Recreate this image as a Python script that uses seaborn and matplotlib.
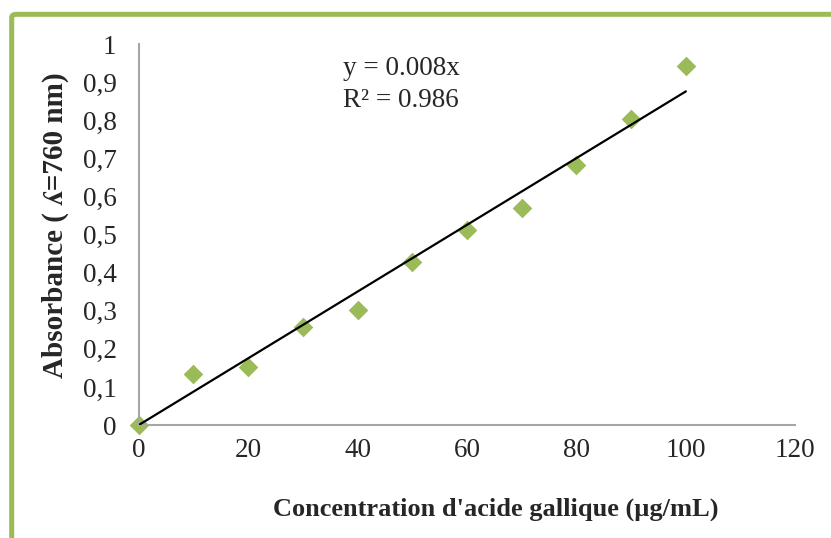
import numpy as np
import pandas as pd
import matplotlib
matplotlib.use("Agg")
import matplotlib.pyplot as plt
import seaborn as sns
from matplotlib.patches import FancyBboxPatch

# values
concentration = [0, 10, 20, 30, 40, 50, 60, 70, 80, 90, 100]
absorbance = [0.0, 0.134, 0.152, 0.257, 0.302, 0.428, 0.512, 0.570, 0.682, 0.803, 0.942]
x_ticks = [0, 20, 40, 60, 80, 100, 120]
y_ticks = [0, 0.1, 0.2, 0.3, 0.4, 0.5, 0.6, 0.7, 0.8, 0.9, 1.0]
y_tick_labels = ["0", "0,1", "0,2", "0,3", "0,4", "0,5", "0,6", "0,7", "0,8", "0,9", "1"]
equation_text = "y = 0.008x\nR² = 0.986"

GREEN = "#9BBB59"
AXIS_GRAY = "#A6A6A6"

sns.set_style("white")
plt.rcParams["font.family"] = ["Liberation Serif", "DejaVu Serif"]

df = pd.DataFrame({"conc": concentration, "abs": absorbance})

# linear trend forced through the origin
slope = np.sum(df["conc"] * df["abs"]) / np.sum(df["conc"] ** 2)
trend = pd.DataFrame({"conc": [0, 100]})
trend["abs"] = slope * trend["conc"]

fig = plt.figure(figsize=(8.31, 5.38), dpi=100)
ax = fig.add_axes([0.167, 0.210, 0.790, 0.708])

sns.lineplot(data=trend, x="conc", y="abs", color="black", linewidth=1.6, ax=ax, zorder=3)
sns.scatterplot(data=df, x="conc", y="abs", marker="D", s=100, color=GREEN,
                linewidth=0, ax=ax, zorder=2, clip_on=False)

ax.set_xlim(0, 120)
ax.set_ylim(0, 1)
ax.set_xticks(x_ticks)
ax.set_xticklabels([str(v) for v in x_ticks])
ax.set_yticks(y_ticks)
ax.set_yticklabels(y_tick_labels)
ax.tick_params(axis="both", length=0, labelsize=19.5)
ax.tick_params(axis="y", pad=16)
ax.tick_params(axis="x", pad=9)

for side in ["top", "right"]:
    ax.spines[side].set_visible(False)
for side in ["left", "bottom"]:
    ax.spines[side].set_color(AXIS_GRAY)
    ax.spines[side].set_linewidth(1.5)

ax.set_xlabel("Concentration d'acide gallique (µg/mL)", fontsize=19, fontweight="bold", labelpad=25)
ax.set_ylabel("Absorbance ( ʎ=760 nm)", fontsize=21, fontweight="bold", labelpad=10)
ax.xaxis.label.set_x(0.543)
ax.yaxis.label.set_y(0.525)

ax.text(37.3, 0.97, equation_text, fontsize=19.5, va="top", ha="left", linespacing=1.38)

# green frame around the chart area (cut at right and bottom)
frame = FancyBboxPatch((11.7 / 831, -0.2), 1.2, 1.2 - 14.3 / 538,
                       boxstyle="round,pad=0,rounding_size=0.006",
                       transform=fig.transFigure, fill=False,
                       edgecolor=GREEN, linewidth=3.6)
fig.patches.append(frame)

fig.savefig("out.png", dpi=100)
